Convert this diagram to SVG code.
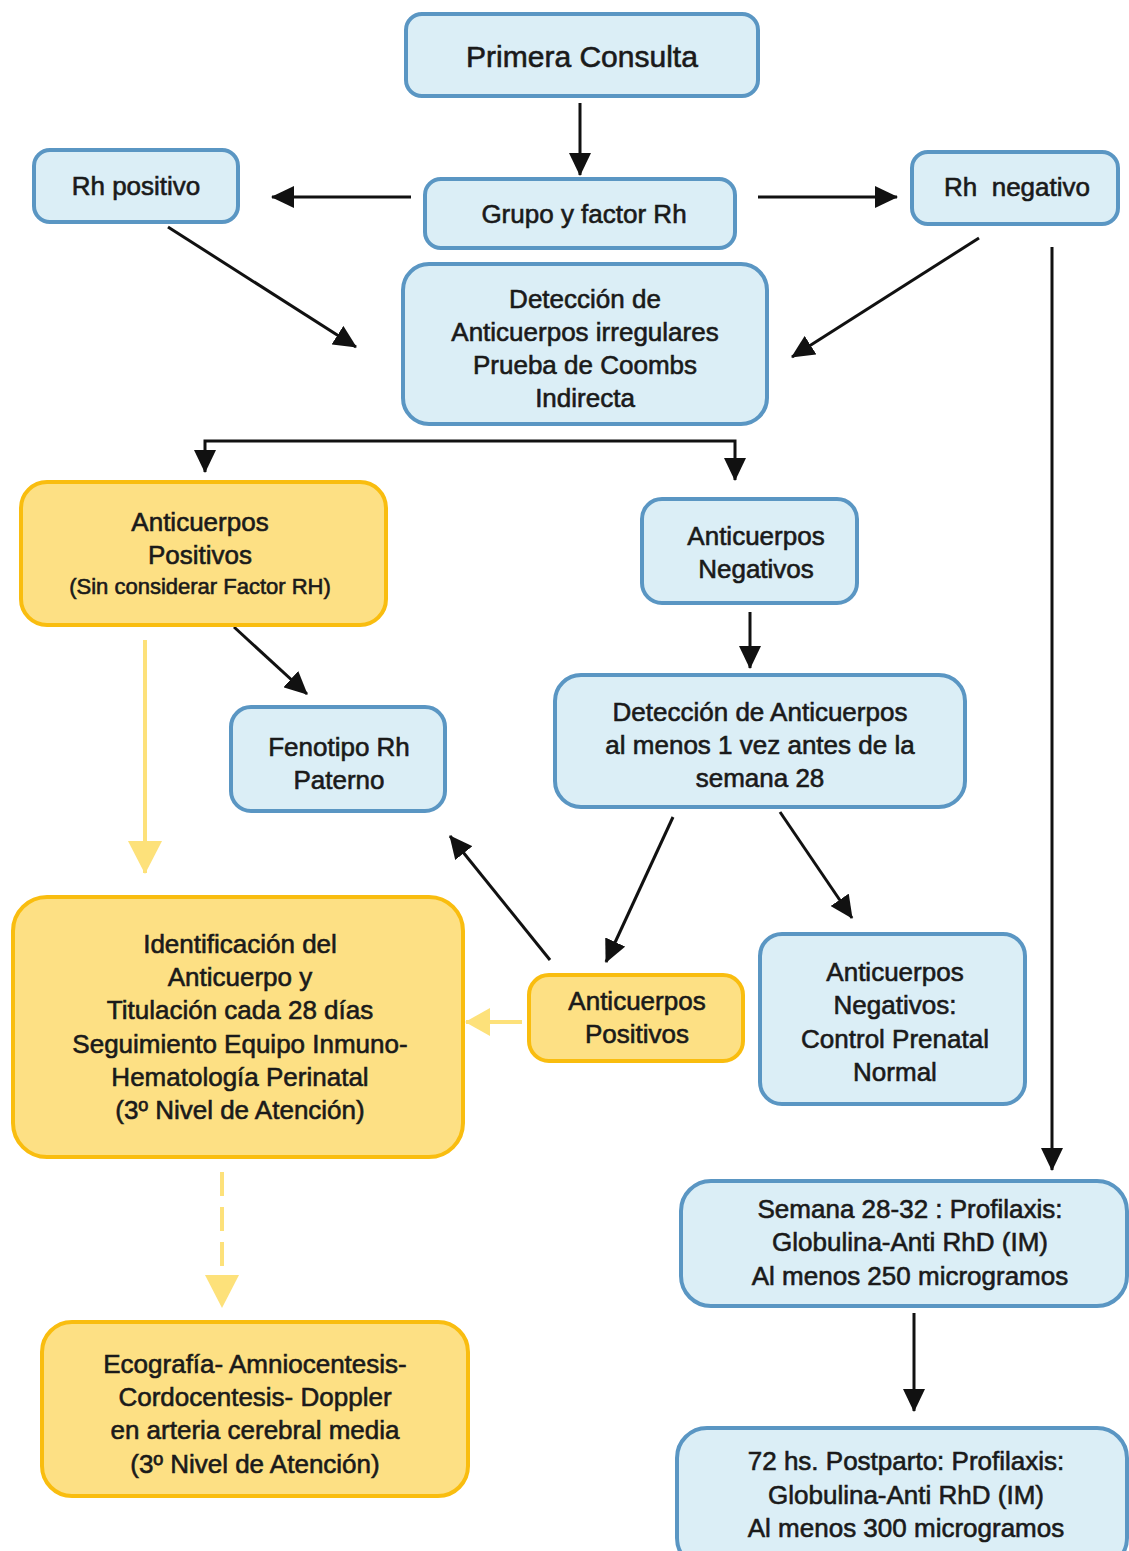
<svg xmlns="http://www.w3.org/2000/svg" width="1129" height="1551" viewBox="0 0 1129 1551">
<style>
.b{fill:#dbeef6;stroke:#5a96c3;stroke-width:4}
.y{fill:#fde084;stroke:#f9bd0f;stroke-width:4}
text{font-family:"Liberation Sans",Arial,sans-serif;font-size:26px;fill:#1a1a1a;stroke:#1a1a1a;stroke-width:0.6;text-anchor:middle}
.t{font-size:30px}
.s{font-size:22px}
.k{fill:none;stroke:#111;stroke-width:3}
.yl{fill:none;stroke:#fde17a;stroke-width:4}
</style>
<defs>
<marker id="a" markerUnits="userSpaceOnUse" markerWidth="24" markerHeight="22" refX="22" refY="11" orient="auto-start-reverse" viewBox="0 0 24 22"><path d="M0,0 L23,11 L0,22 z" fill="#111"/></marker>
<marker id="ya" markerUnits="userSpaceOnUse" markerWidth="34" markerHeight="34" refX="32" refY="17" orient="auto" viewBox="0 0 34 34"><path d="M0,0 L33,17 L0,34 z" fill="#fde17a"/></marker>
<marker id="ys" markerUnits="userSpaceOnUse" markerWidth="26" markerHeight="28" refX="24" refY="14" orient="auto" viewBox="0 0 26 28"><path d="M0,0 L25,14 L0,28 z" fill="#fde17a"/></marker>
</defs>
<g id="connectors">
<line class="k" x1="580" y1="103" x2="580" y2="175" marker-end="url(#a)"/>
<line class="k" x1="411" y1="197" x2="272" y2="197" marker-end="url(#a)"/>
<line class="k" x1="758" y1="197" x2="897" y2="197" marker-end="url(#a)"/>
<line class="k" x1="168" y1="227" x2="356" y2="347" marker-end="url(#a)"/>
<line class="k" x1="979" y1="238" x2="792" y2="357" marker-end="url(#a)"/>
<line class="k" x1="1052" y1="247" x2="1052" y2="1170" marker-end="url(#a)"/>
<path class="k" d="M205,472 V441 H735 V480" marker-start="url(#a)" marker-end="url(#a)"/>
<line class="k" x1="234" y1="627" x2="307" y2="694" marker-end="url(#a)"/>
<line class="yl" x1="145" y1="640" x2="145" y2="873" marker-end="url(#ya)"/>
<line class="k" x1="750" y1="612" x2="750" y2="668" marker-end="url(#a)"/>
<line class="k" x1="673" y1="817" x2="606" y2="962" marker-end="url(#a)"/>
<line class="k" x1="780" y1="812" x2="852" y2="918" marker-end="url(#a)"/>
<line class="k" x1="550" y1="960" x2="450" y2="836" marker-end="url(#a)"/>
<line class="yl" x1="522" y1="1022" x2="466" y2="1022" marker-end="url(#ys)"/>
<line class="yl" x1="222" y1="1172" x2="222" y2="1307" stroke-dasharray="24 11" marker-end="url(#ya)"/>
<line class="k" x1="914" y1="1313" x2="914" y2="1411" marker-end="url(#a)"/>
</g>
<g id="n1"><rect class="b" x="406" y="14" width="352" height="82" rx="16"/><text class="t" x="582" y="67">Primera Consulta</text></g>
<g id="n2"><rect class="b" x="34" y="150" width="204" height="72" rx="16"/><text x="136" y="195">Rh positivo</text></g>
<g id="n3"><rect class="b" x="425" y="179" width="310" height="69" rx="16"/><text x="584" y="223">Grupo y factor Rh</text></g>
<g id="n4"><rect class="b" x="912" y="152" width="206" height="72" rx="16"/><text x="1017" y="196" xml:space="preserve">Rh  negativo</text></g>
<g id="n5"><rect class="b" x="403" y="264" width="364" height="160" rx="26"/>
<text x="585" y="308">Detección de</text><text x="585" y="341">Anticuerpos irregulares</text><text x="585" y="374">Prueba de Coombs</text><text x="585" y="407">Indirecta</text></g>
<g id="n6"><rect class="y" x="21" y="482" width="365" height="143" rx="26"/>
<text x="200" y="531">Anticuerpos</text><text x="200" y="564">Positivos</text><text class="s" x="200" y="594">(Sin considerar Factor RH)</text></g>
<g id="n7"><rect class="b" x="642" y="499" width="215" height="104" rx="20"/>
<text x="756" y="545">Anticuerpos</text><text x="756" y="578">Negativos</text></g>
<g id="n8"><rect class="b" x="231" y="707" width="214" height="104" rx="20"/>
<text x="339" y="756">Fenotipo Rh</text><text x="339" y="789">Paterno</text></g>
<g id="n9"><rect class="b" x="555" y="675" width="410" height="132" rx="26"/>
<text x="760" y="721">Detección de Anticuerpos</text><text x="760" y="754">al menos 1 vez antes de la</text><text x="760" y="787">semana 28</text></g>
<g id="n10"><rect class="y" x="13" y="897" width="450" height="260" rx="34"/>
<text x="240" y="953">Identificación del</text><text x="240" y="986">Anticuerpo y</text><text x="240" y="1019">Titulación cada 28 días</text><text x="240" y="1053">Seguimiento Equipo Inmuno-</text><text x="240" y="1086">Hematología Perinatal</text><text x="240" y="1119">(3º Nivel de Atención)</text></g>
<g id="n11"><rect class="y" x="529" y="975" width="214" height="86" rx="20"/>
<text x="637" y="1010">Anticuerpos</text><text x="637" y="1043">Positivos</text></g>
<g id="n12"><rect class="b" x="760" y="934" width="265" height="170" rx="22"/>
<text x="895" y="981">Anticuerpos</text><text x="895" y="1014">Negativos:</text><text x="895" y="1048">Control Prenatal</text><text x="895" y="1081">Normal</text></g>
<g id="n13"><rect class="b" x="681" y="1181" width="446" height="125" rx="30"/>
<text x="910" y="1218">Semana 28-32 : Profilaxis:</text><text x="910" y="1251">Globulina-Anti RhD (IM)</text><text x="910" y="1285">Al menos 250 microgramos</text></g>
<g id="n14"><rect class="y" x="42" y="1322" width="426" height="174" rx="30"/>
<text x="255" y="1373">Ecografía- Amniocentesis-</text><text x="255" y="1406">Cordocentesis- Doppler</text><text x="255" y="1439">en arteria cerebral media</text><text x="255" y="1473">(3º Nivel de Atención)</text></g>
<g id="n15"><rect class="b" x="677" y="1428" width="450" height="140" rx="30"/>
<text x="906" y="1470">72 hs. Postparto: Profilaxis:</text><text x="906" y="1504">Globulina-Anti RhD (IM)</text><text x="906" y="1537">Al menos 300 microgramos</text></g>
</svg>
